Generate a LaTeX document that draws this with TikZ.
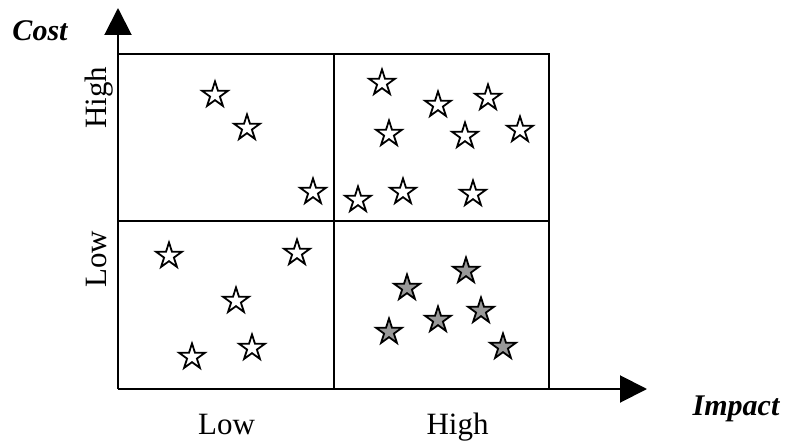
\documentclass[tikz,border=0pt]{standalone}
\usepackage{fontspec}
\setmainfont{Liberation Serif}
\usetikzlibrary{arrows.meta,shapes.geometric}
\begin{document}
\begin{tikzpicture}[x=1pt,y=-1pt,
  axis/.style={line width=2pt,-{Triangle[length=27pt,width=27pt]}},
  gridline/.style={line width=1.6pt},
  st/.style={star,star points=5,star point ratio=2.618,minimum size=27pt,inner sep=0pt,draw=black,line width=1.8pt,fill=white},
  gst/.style={st,fill=black!40},
  lab/.style={font=\fontsize{31}{36}\selectfont,inner sep=0pt},
  axlab/.style={font=\fontsize{30}{36}\selectfont\bfseries\itshape,inner sep=0pt}]
\useasboundingbox (0,0) rectangle (785,444);
\coordinate (O) at (118,389);
\coordinate (TL) at (118,54);
\coordinate (TR) at (549,54);
\coordinate (BR) at (549,389);
\coordinate (MT) at (334,54);
\coordinate (MB) at (334,389);
\coordinate (ML) at (118,221);
\coordinate (MR) at (549,221);
\coordinate (Ytip) at (118,8);
\coordinate (Xtip) at (647,389);
\draw[gridline] (TL) -- (TR) -- (BR);
\draw[gridline] (MT) -- (MB);
\draw[gridline] (ML) -- (MR);
\draw[axis] (O) -- (Ytip);
\draw[axis] (O) -- (Xtip);
% labels
\node[axlab] (cost) at (40,31) {Cost};
\node[axlab] (impact) at (736,409) {Impact};
\node[lab,anchor=base] (xlow) at (226.5,434) {Low};
\node[lab,anchor=base] (xhigh) at (457.5,434) {High};
\node[lab,anchor=base,rotate=90] (yhigh) at (106,97.5) {High};
\node[lab,anchor=base,rotate=90] (ylow) at (106,259.5) {Low};
% top-left stars
\node[st] (a1) at (215,95) {};
\node[st] (a2) at (247,128) {};
\node[st] (a3) at (313,192) {};
% top-right stars
\node[st] (b1) at (382,83) {};
\node[st] (b2) at (438,105) {};
\node[st] (b3) at (488,98) {};
\node[st] (b4) at (389,134) {};
\node[st] (b5) at (465,136) {};
\node[st] (b6) at (520,130) {};
\node[st] (b7) at (358,200) {};
\node[st] (b8) at (403,192) {};
\node[st] (b9) at (473,194) {};
% bottom-left stars
\node[st] (c1) at (169,256) {};
\node[st] (c2) at (297,253) {};
\node[st] (c3) at (236,301) {};
\node[st] (c4) at (192,357) {};
\node[st] (c5) at (252,348) {};
% bottom-right stars (grey)
\node[gst] (d1) at (407,288) {};
\node[gst] (d2) at (466,271) {};
\node[gst] (d3) at (389,332) {};
\node[gst] (d4) at (438,320) {};
\node[gst] (d5) at (481,311) {};
\node[gst] (d6) at (503,347) {};
\end{tikzpicture}
\end{document}
